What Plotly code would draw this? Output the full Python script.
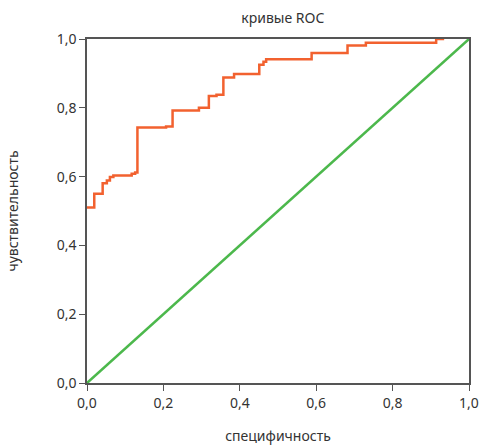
import plotly.graph_objects as go

# ROC curve step points (specificity axis, sensitivity)
roc_x = [0.0, 0.019, 0.019, 0.041, 0.041, 0.052, 0.052, 0.060, 0.060, 0.069, 0.069,
         0.117, 0.117, 0.126, 0.126, 0.132, 0.132, 0.207, 0.207, 0.224, 0.224,
         0.293, 0.293, 0.319, 0.319, 0.339, 0.339, 0.357, 0.357, 0.385, 0.385,
         0.451, 0.451, 0.462, 0.462, 0.469, 0.469, 0.588, 0.588, 0.682, 0.682,
         0.730, 0.730, 0.914, 0.914, 0.935]
roc_y = [0.510, 0.510, 0.550, 0.550, 0.581, 0.581, 0.589, 0.589, 0.599, 0.599, 0.603,
         0.603, 0.608, 0.608, 0.612, 0.612, 0.743, 0.743, 0.746, 0.746, 0.792,
         0.792, 0.800, 0.800, 0.834, 0.834, 0.838, 0.838, 0.888, 0.888, 0.898,
         0.898, 0.925, 0.925, 0.934, 0.934, 0.941, 0.941, 0.959, 0.959, 0.981,
         0.981, 0.989, 0.989, 1.0, 1.0]
ref_x = [0.0, 1.0]
ref_y = [0.0, 1.0]
tick_vals = [0.0, 0.2, 0.4, 0.6, 0.8, 1.0]
tick_text = ["0,0", "0,2", "0,4", "0,6", "0,8", "1,0"]

font = "Noto Sans"
fig = go.Figure()
fig.add_trace(go.Scatter(x=ref_x, y=ref_y, mode="lines",
                         line=dict(color="#4cb84c", width=2.5), showlegend=False))
fig.add_trace(go.Scatter(x=roc_x, y=roc_y, mode="lines",
                         line=dict(color="#f2612f", width=2.5), showlegend=False))

axis_common = dict(range=[0, 1], tickvals=tick_vals, ticktext=tick_text,
                   showgrid=False, zeroline=False, showline=True, linecolor="#555555",
                   linewidth=1.5, mirror=True, ticks="outside", ticklen=6,
                   tickcolor="#555555", tickfont=dict(size=14, color="#333333", family=font))
fig.update_xaxes(**axis_common, title=dict(text="специфичность", standoff=24,
                 font=dict(size=14, color="#333333", family=font)))
fig.update_yaxes(**axis_common, title=dict(text="чувствительность", standoff=35,
                 font=dict(size=14, color="#333333", family=font)))
fig.update_layout(
    width=481, height=445,
    margin=dict(l=87, r=12, t=39, b=62, autoexpand=False),
    paper_bgcolor="white", plot_bgcolor="white",
    title=dict(text="кривые ROC", x=0.588, xanchor="center", y=0.96, yanchor="middle",
               font=dict(size=14, color="#333333", family=font)),
    font=dict(family=font),
)
fig.write_html("out.html", config={"displayModeBar": False},
               post_script="document.body.style.margin='0';document.body.style.overflow='hidden';")
